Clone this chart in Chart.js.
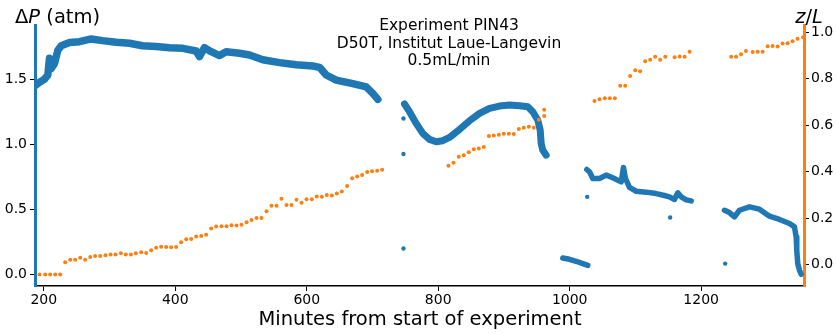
<!DOCTYPE html>
<html>
<head>
<meta charset="utf-8">
<script src="https://cdn.jsdelivr.net/npm/chart.js@4.4.0/dist/chart.umd.min.js"></script>
<style>
  body { margin: 0; background: #fff; }
</style>
</head>
<body>
<canvas id="chart" width="836" height="334"></canvas>
<script>
// pressure drop (atm) vs minutes, one array per continuous stretch of the record
const dpRun1 = [[187,1.45],[193.5,1.475],[201.1,1.50],[206.1,1.53],[208.7,1.66],[211.3,1.58],[216.3,1.62],
  [221.3,1.72],[226.5,1.756],[239.1,1.78],[254.3,1.787],[272.1,1.808],[289.3,1.795],[310.1,1.782],
  [330.4,1.775],[350.1,1.756],[371,1.749],[391.2,1.741],[411.4,1.736],[431.8,1.715],[436.8,1.672],
  [444.4,1.741],[454.6,1.71],[467.3,1.68],[477.4,1.71],[497.7,1.698],[512.9,1.685],[533.1,1.648],
  [558.5,1.626],[583.9,1.61],[609.2,1.60],[619.4,1.59],[629.6,1.531],[644.8,1.492],[670,1.465],
  [690.4,1.44],[700.4,1.39],[708.1,1.344]];
const dpRun2 = [[748.7,1.308],[756.3,1.249],[766.5,1.159],[776.5,1.082],[786.7,1.036],[796.9,1.018],
  [806.9,1.026],[817.1,1.051],[832.4,1.113],[847.6,1.179],[862.8,1.236],[878,1.274],[893.2,1.292],
  [908.4,1.30],[923.6,1.295],[936.2,1.287],[943.8,1.249],[951.4,1.185],[955.1,1.108],[956.6,1.005],
  [959,0.954],[964.2,0.915]];
const dpRun3 = [[989.5,0.125],[999.6,0.115],[1009.8,0.10],[1019.9,0.082],[1027.5,0.069]];
const dpRun4 = [[1026,0.805],[1030.1,0.787],[1035.1,0.736],[1045.3,0.736],[1055.5,0.762],[1065.5,0.741],
  [1078.3,0.71],[1081.8,0.82],[1084.8,0.736],[1090.9,0.667],[1101.1,0.638],[1116.3,0.631],[1131.5,0.62],
  [1144.1,0.605],[1151.7,0.595],[1159.4,0.575],[1164.4,0.626],[1169.5,0.595],[1177.2,0.572],[1184.8,0.564]];
const dpRun5 = [[1235.4,0.492],[1243,0.474],[1250.6,0.441],[1258.2,0.492],[1273.4,0.518],[1288.6,0.50],
  [1303.9,0.446],[1319.1,0.421],[1334.3,0.39],[1341.9,0.364],[1344.5,0.287],[1345.4,0.185],
  [1346.9,0.082],[1349.5,0.031],[1352.1,0.0]];
const dpStray = [[747.1,1.197],[747.1,0.924],[747.1,0.198],[1026.6,0.595],[1152.8,0.436],[1236.5,0.082]];

// front position z/L
const zlMin = [193.4,202.1,209.6,217.3,224.9,232.5,240.2,247.7,255.4,262.9,270.6,278.1,285.8,293.8,301.5,
  309,317.2,324.7,332.4,340,348.1,355.7,363.3,370.9,378.5,386.2,393.7,401.4,408.9,416.6,424.2,431.8,
  439.4,447,454.6,462.2,470.3,477.9,485.5,493.1,500.7,508.4,515.9,523.6,531.1,538.8,546.3,554,561.5,
  569.2,576.8,584.4,592,599.6,607.7,615.2,622.9,630.5,638.1,645.7,653.3,661.4,669,676.7,684.2,691.9,
  699.4,707.1,714.7,
  815.6,823.2,831.2,838.9,846.4,854.1,861.7,869.3,877,884.5,892.2,899.7,907.4,914.9,922.6,930.1,937.8,
  945.3,953,961.2,961.2,
  1037.7,1045.3,1053.4,1061,1068.6,1076.8,1084.4,1091.9,1099.6,1107.1,1114.8,1122.4,1130,1137.6,1145.3,
  1159.6,1167.2,1174.8,1182.3,1245.6,1253.1,1260.6,1268.1,1278.4,1285.9,1293.5,1301.1,1308.6,1316.3,
  1323.8,1331.4,1339,1346.6,1355];
const zlVal = [-0.042,-0.042,-0.042,-0.042,-0.042,0.010,0.021,0.021,0.030,0.021,0.033,0.037,0.037,0.040,
  0.044,0.044,0.049,0.044,0.044,0.049,0.053,0.050,0.062,0.073,0.077,0.076,0.075,0.076,0.096,0.109,
  0.110,0.121,0.123,0.129,0.155,0.164,0.165,0.165,0.169,0.168,0.172,0.182,0.192,0.201,0.201,0.230,
  0.253,0.253,0.283,0.257,0.256,0.279,0.266,0.281,0.281,0.293,0.292,0.300,0.297,0.306,0.315,0.338,
  0.372,0.379,0.386,0.399,0.402,0.404,0.408,
  0.425,0.438,0.464,0.471,0.483,0.496,0.500,0.506,0.553,0.556,0.559,0.563,0.563,0.562,0.584,0.589,
  0.593,0.589,0.623,0.639,0.666,
  0.704,0.712,0.716,0.716,0.716,0.770,0.770,0.812,0.836,0.832,0.875,0.881,0.894,0.881,0.894,
  0.892,0.895,0.894,0.916,0.894,0.894,0.905,0.919,0.915,0.916,0.916,0.940,0.941,0.938,
  0.951,0.953,0.961,0.972,0.978];

const xTicks = [200, 400, 600, 800, 1000, 1200];
const dpTicks = [0, 0.5, 1.0, 1.5];
const zlTicks = [0, 0.2, 0.4, 0.6, 0.8, 1.0];
const titleLines = ['Experiment PIN43', 'D50T, Institut Laue-Langevin', '0.5mL/min'];

const BLUE = '#1f77b4';
const ORANGE = '#ff7f0e';
const FONT = '"DejaVu Sans", sans-serif';
Chart.defaults.color = '#000';
Chart.defaults.font.family = FONT;

const pts = arr => arr.map(p => ({x: p[0], y: p[1]}));

function run(arr, width) {
  return {
    data: pts(arr), yAxisID: 'yL', showLine: true,
    borderColor: BLUE, backgroundColor: BLUE, borderWidth: width,
    borderJoinStyle: 'round', borderCapStyle: 'round',
    pointRadius: 0, tension: 0
  };
}

const textPlugin = {
  id: 'texts',
  afterDraw(chart) {
    const ctx = chart.ctx;
    ctx.save();
    ctx.fillStyle = '#000';
    ctx.textBaseline = 'alphabetic';
    ctx.textAlign = 'left';

    // left axis label: ΔP (atm)
    const parts = [['Δ', ''], ['P', 'italic '], [' (atm)', '']];
    let x = 15;
    parts.forEach(([t, st]) => {
      ctx.font = st + '19.5px ' + FONT;
      ctx.fillText(t, x, 22.5);
      x += ctx.measureText(t).width;
    });

    // right axis label: z/L
    const zparts = [['z', 'italic '], ['/', ''], ['L', 'italic ']];
    let w = 0;
    zparts.forEach(([t, st]) => { ctx.font = st + '19.5px ' + FONT; w += ctx.measureText(t).width; });
    x = 809 - w / 2;
    zparts.forEach(([t, st]) => {
      ctx.font = st + '19.5px ' + FONT;
      ctx.fillText(t, x, 22.5);
      x += ctx.measureText(t).width;
    });

    // x axis label
    ctx.textAlign = 'center';
    ctx.font = '19.5px ' + FONT;
    ctx.fillText('Minutes from start of experiment', 420, 325);

    // annotation
    ctx.font = '15.5px ' + FONT;
    [30, 47.5, 65].forEach((y, i) => ctx.fillText(titleLines[i], 449, y));
    ctx.restore();
  }
};

new Chart(document.getElementById('chart'), {
  type: 'scatter',
  data: {
    datasets: [
      { data: zlMin.map((m, i) => ({x: m, y: zlVal[i]})), yAxisID: 'yR',
        backgroundColor: ORANGE, borderColor: ORANGE, pointRadius: 2, pointBorderWidth: 0 },
      { data: pts(dpStray), yAxisID: 'yL', backgroundColor: BLUE, borderColor: BLUE,
        pointRadius: 2.2, pointBorderWidth: 0 },
      run(dpRun1, 7.5), run(dpRun2, 7), run(dpRun3, 5.5), run(dpRun4, 5.5), run(dpRun5, 5.5)
    ]
  },
  options: {
    responsive: false,
    animation: false,
    layout: { padding: { top: 25, left: 0, right: 0, bottom: 0 } },
    plugins: { legend: { display: false }, tooltip: { enabled: false } },
    scales: {
      x: {
        type: 'linear', min: 186.6, max: 1356.4,
        afterBuildTicks: s => { s.ticks = xTicks.map(v => ({value: v})); },
        afterFit: s => { s.height = 48; },
        grid: { drawOnChartArea: false, drawTicks: true, tickLength: 5, color: '#000', tickWidth: 1 },
        border: { display: true, color: '#000', width: 1.6 },
        ticks: { font: { size: 14 }, padding: 1, maxRotation: 0, callback: v => String(v) }
      },
      yL: {
        position: 'left', min: -0.09, max: 1.915,
        afterBuildTicks: s => { s.ticks = dpTicks.map(v => ({value: v})); },
        afterFit: s => { s.width = 35; },
        grid: { drawOnChartArea: false, drawTicks: true, tickLength: 5, color: '#000', tickWidth: 1 },
        border: { display: true, color: BLUE, width: 3 },
        ticks: { font: { size: 14 }, padding: 3, callback: v => v.toFixed(1) }
      },
      yR: {
        position: 'right', min: -0.092, max: 1.031,
        afterBuildTicks: s => { s.ticks = zlTicks.map(v => ({value: v})); },
        afterFit: s => { s.width = 32; },
        grid: { drawOnChartArea: false, drawTicks: true, tickLength: 5, color: '#000', tickWidth: 1 },
        border: { display: true, color: ORANGE, width: 3 },
        ticks: { font: { size: 14 }, padding: 2, callback: v => v.toFixed(1) }
      }
    }
  },
  plugins: [textPlugin]
});
</script>
</body>
</html>
